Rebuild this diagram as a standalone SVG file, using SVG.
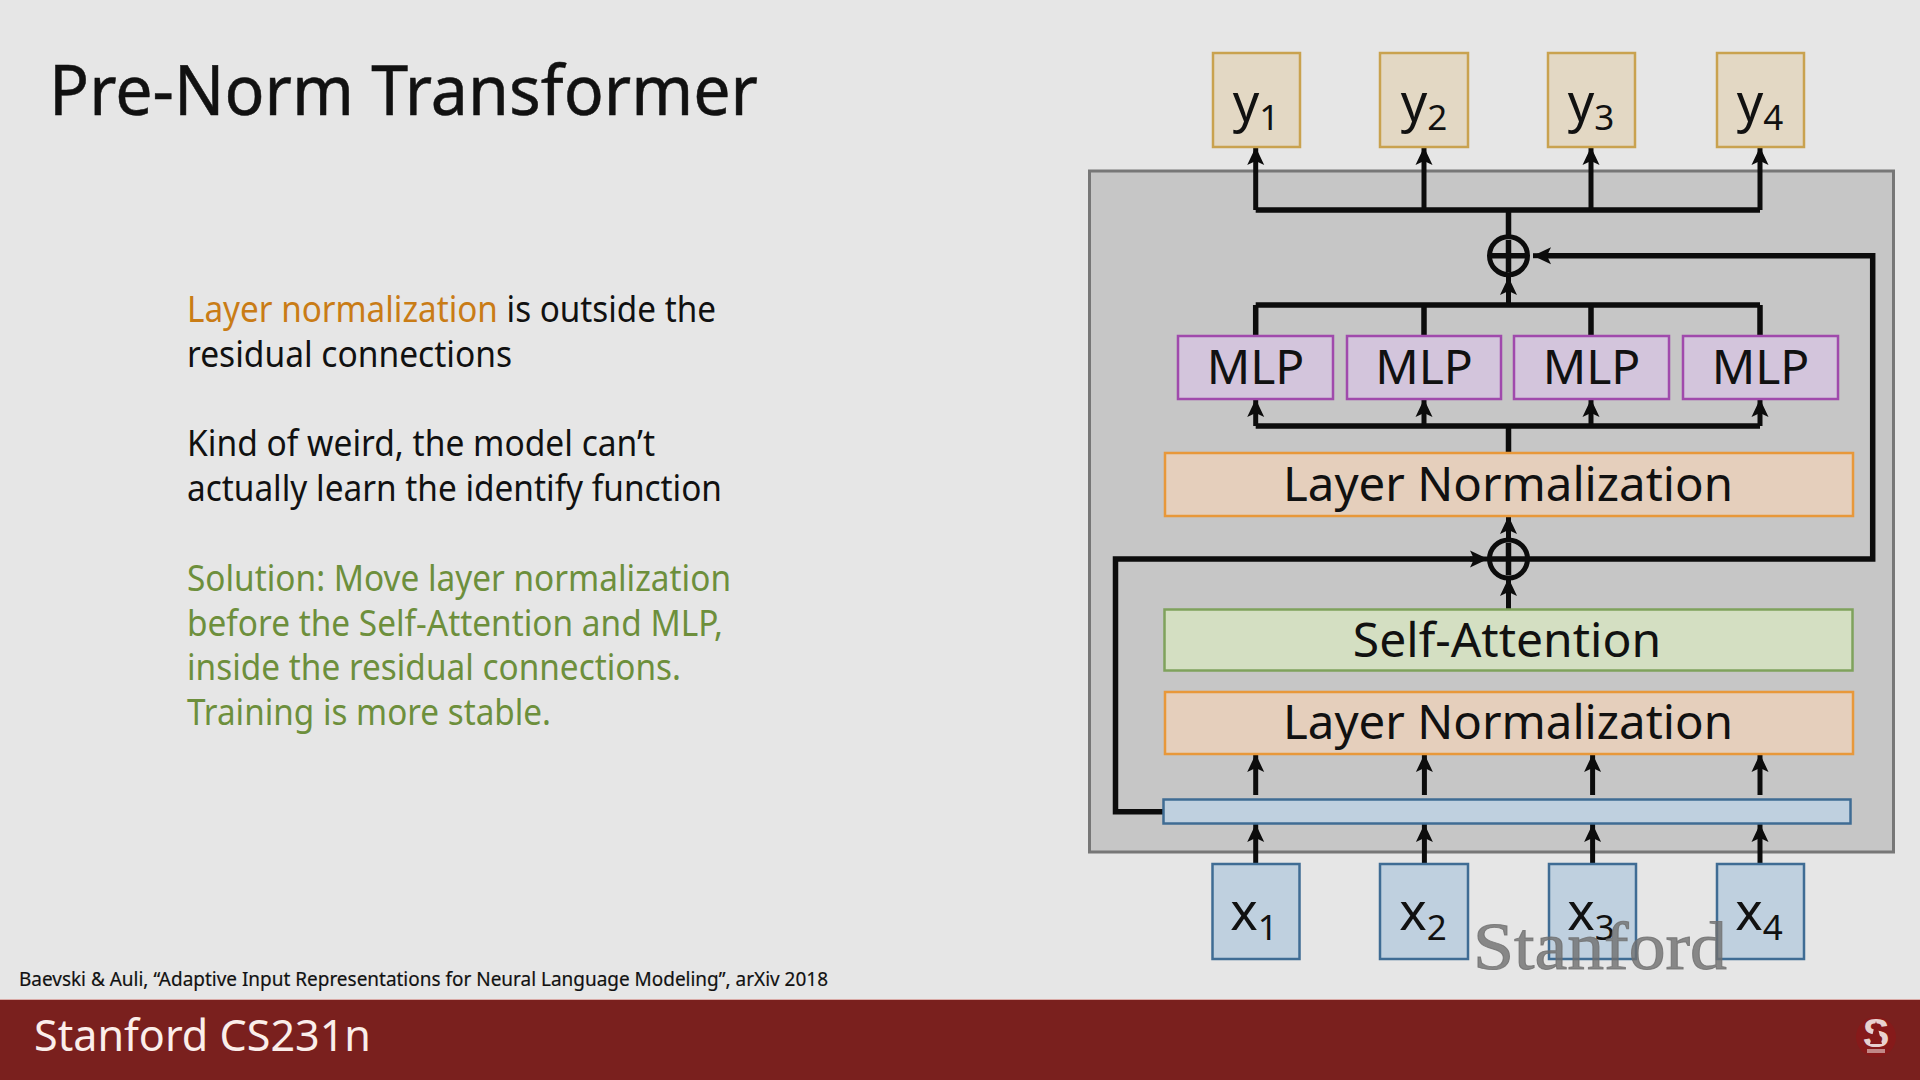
<svg xmlns="http://www.w3.org/2000/svg" width="1920" height="1080" viewBox="0 0 1920 1080">
<style>
text{font-family:"Noto Sans","Open Sans",sans-serif;fill:#111}
.body{font-size:36px}
.big{font-size:48px;text-anchor:middle}
.var{font-size:52px;text-anchor:middle}
.sub{font-size:35px}
.box{stroke-width:2.500}
.y{fill:#e3d8c4;stroke:#c9a24f}
.x{fill:#bfd0df;stroke:#3f6c94}
.mlp{fill:#d3c5dc;stroke:#a04aac}
.ln{fill:#e5cfbc;stroke:#e8983a}
.sa{fill:#d4dfc2;stroke:#7fa25c}
.wire{fill:none;stroke:#0c0c0c;stroke-width:5.500}
.arr{fill:none;stroke:#0c0c0c;stroke-width:5;marker-end:url(#head)}
.or{fill:#c97c16}
.gr{fill:#6d8f3c}
</style>
<defs>
<marker id="head" markerUnits="userSpaceOnUse" markerWidth="18" markerHeight="18" refX="18" refY="9" orient="auto"><path d="M0,0.500L18,9L0,17.500L4,9Z" fill="#0c0c0c"/></marker>
</defs>
<rect width="1920" height="1080" fill="#e6e6e6"/>
<text id="title" x="49" y="115" font-size="69" textLength="709" lengthAdjust="spacingAndGlyphs" stroke="#111" stroke-width=".5">Pre-Norm Transformer</text>
<g id="notes">
<text class="body" x="187" y="322" textLength="529" lengthAdjust="spacingAndGlyphs"><tspan class="or">Layer normalization</tspan> is outside the</text>
<text class="body" x="187" y="367" textLength="325" lengthAdjust="spacingAndGlyphs">residual connections</text>
<text class="body" x="187" y="456" textLength="468" lengthAdjust="spacingAndGlyphs">Kind of weird, the model can’t</text>
<text class="body" x="187" y="501" textLength="535" lengthAdjust="spacingAndGlyphs">actually learn the identify function</text>
<text class="body gr" x="187" y="591" textLength="544" lengthAdjust="spacingAndGlyphs">Solution: Move layer normalization</text>
<text class="body gr" x="187" y="636" textLength="536" lengthAdjust="spacingAndGlyphs">before the Self-Attention and MLP,</text>
<text class="body gr" x="187" y="680" textLength="494" lengthAdjust="spacingAndGlyphs">inside the residual connections.</text>
<text class="body gr" x="187" y="725" textLength="364" lengthAdjust="spacingAndGlyphs">Training is more stable.</text>
</g>
<rect id="block" x="1089.500" y="171" width="804" height="681" fill="#c6c6c6" stroke="#777" stroke-width="3"/>
<g id="connectors">
<path class="wire" d="M1255.700 210H1760M1508.500 210V236M1255.700 305H1760M1255.700 305V336M1424 305V336M1591 305V336M1760 305V336M1255.700 426H1760M1508.500 426V453M1529 559H1872.700V255.700H1545M1163 811.700H1115.500V559H1480"/>
<path class="arr" d="M1255.700 210V147"/>
<path class="arr" d="M1424 210V147"/>
<path class="arr" d="M1591 210V147"/>
<path class="arr" d="M1760 210V147"/>
<path class="arr" d="M1548 255.700H1533"/>
<path class="arr" d="M1508.500 305V277"/>
<path class="arr" d="M1255.700 426V399"/>
<path class="arr" d="M1424 426V399"/>
<path class="arr" d="M1591 426V399"/>
<path class="arr" d="M1760 426V399"/>
<path class="arr" d="M1508.500 539V516"/>
<path class="arr" d="M1470 559H1488"/>
<path class="arr" d="M1508.500 609V578"/>
<path class="arr" d="M1255.700 795V754"/>
<path class="arr" d="M1424.400 795V754"/>
<path class="arr" d="M1592.600 795V754"/>
<path class="arr" d="M1760 795V754"/>
<path class="arr" d="M1255.700 864V824"/>
<path class="arr" d="M1424.400 864V824"/>
<path class="arr" d="M1592.600 864V824"/>
<path class="arr" d="M1760 864V824"/>
</g>
<g id="y1"><rect class="box y" x="1213" y="53" width="87" height="94"/><text class="var" x="1256" y="121">y<tspan class="sub" dy="9">1</tspan></text></g>
<g id="y2"><rect class="box y" x="1380" y="53" width="88" height="94"/><text class="var" x="1424" y="121">y<tspan class="sub" dy="9">2</tspan></text></g>
<g id="y3"><rect class="box y" x="1548" y="53" width="87" height="94"/><text class="var" x="1591" y="121">y<tspan class="sub" dy="9">3</tspan></text></g>
<g id="y4"><rect class="box y" x="1717" y="53" width="87" height="94"/><text class="var" x="1760" y="121">y<tspan class="sub" dy="9">4</tspan></text></g>
<g id="add2"><circle cx="1508.500" cy="255.700" r="19" fill="#c6c6c6" stroke="#0c0c0c" stroke-width="5"/><path class="wire" d="M1508.500 240V272M1492 255.700H1525"/></g>
<g id="mlp1"><rect class="box mlp" x="1178" y="336" width="155" height="63"/><text class="big" x="1255.500" y="384">MLP</text></g>
<g id="mlp2"><rect class="box mlp" x="1347" y="336" width="154" height="63"/><text class="big" x="1424" y="384">MLP</text></g>
<g id="mlp3"><rect class="box mlp" x="1514" y="336" width="155" height="63"/><text class="big" x="1591.500" y="384">MLP</text></g>
<g id="mlp4"><rect class="box mlp" x="1683" y="336" width="155" height="63"/><text class="big" x="1760.500" y="384">MLP</text></g>
<g id="ln2"><rect class="box ln" x="1165" y="453" width="688" height="63"/><text class="big" x="1508" y="501" textLength="450" lengthAdjust="spacingAndGlyphs">Layer Normalization</text></g>
<g id="add1"><circle cx="1508.500" cy="559" r="19" fill="#c6c6c6" stroke="#0c0c0c" stroke-width="5"/><path class="wire" d="M1508.500 543V575M1492 559H1525"/></g>
<g id="sa"><rect class="box sa" x="1164.500" y="609.500" width="688" height="61"/><text class="big" x="1507" y="657">Self-Attention</text></g>
<g id="ln1"><rect class="box ln" x="1165" y="692" width="688" height="62"/><text class="big" x="1508" y="739" textLength="450" lengthAdjust="spacingAndGlyphs">Layer Normalization</text></g>
<g id="embed"><rect class="box x" x="1163.500" y="799.500" width="687" height="24"/></g>
<g id="x1"><rect class="box x" x="1212.500" y="864" width="87" height="95"/><text class="var" x="1254" y="930">x<tspan class="sub" dy="10">1</tspan></text></g>
<g id="x2"><rect class="box x" x="1380" y="864" width="88" height="95"/><text class="var" x="1423" y="930">x<tspan class="sub" dy="10">2</tspan></text></g>
<g id="x3"><rect class="box x" x="1549" y="864" width="87" height="95"/><text class="var" x="1591" y="930">x<tspan class="sub" dy="10">3</tspan></text></g>
<g id="x4"><rect class="box x" x="1717" y="864" width="87" height="95"/><text class="var" x="1759" y="930">x<tspan class="sub" dy="10">4</tspan></text></g>
<text id="watermark" x="1473" y="969" font-size="68" textLength="254" lengthAdjust="spacingAndGlyphs" stroke="#6f6f6f" stroke-width="1" stroke-opacity=".8" style="font-family:'Liberation Serif',serif;fill:#6f6f6f;fill-opacity:.8">Stanford</text>
<text id="citation" x="19" y="986" font-size="20" textLength="809" lengthAdjust="spacingAndGlyphs" stroke="#111" stroke-width=".2">Baevski &amp; Auli, “Adaptive Input Representations for Neural Language Modeling”, arXiv 2018</text>
<rect id="footer" y="1000" width="1920" height="80" fill="#7a201e"/>
<path d="M0 999.500H1920" stroke="#d9a9a5" stroke-width="1"/>
<text id="course" x="34" y="1051" font-size="43" textLength="337" lengthAdjust="spacingAndGlyphs" style="fill:#fbeeea">Stanford CS231n</text>
<g id="logo"><circle cx="1876" cy="1037" r="20" fill="#861a1a"/><text x="1876" y="1047" font-size="40" font-weight="700" text-anchor="middle" style="font-family:'Liberation Sans',sans-serif;fill:#e8d2d0">S</text><path d="M1876 1021L1882 1044H1870Z" fill="#861a1a"/><rect x="1867" y="1049" width="18" height="4" fill="#e8d2d0" opacity=".6"/></g>
</svg>
